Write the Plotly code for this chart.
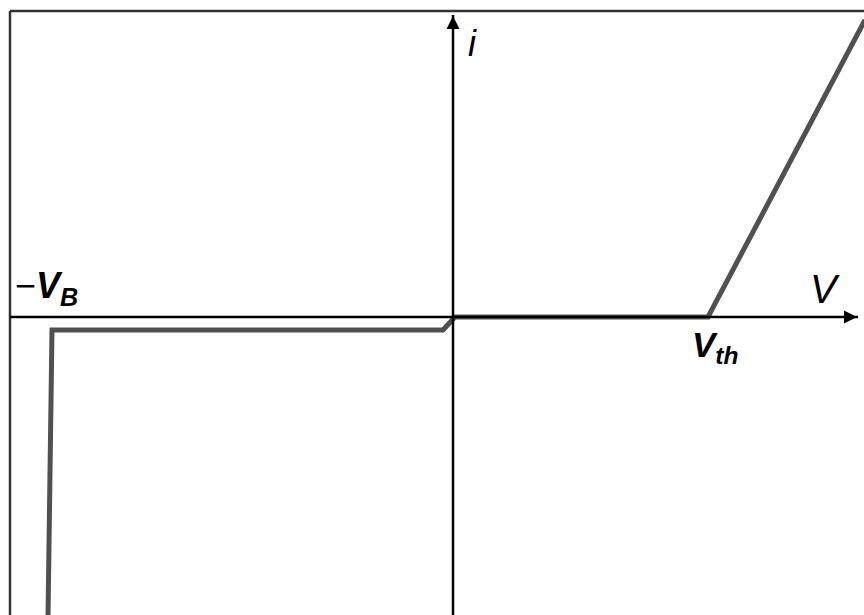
import plotly.graph_objects as go

# Curve (I-V characteristic), coordinates relative to origin (V right, i up)
curve_v = [-405, -401, -10, 2, 255, 412]
curve_i = [-300, -13, -13, 0, 0, 297]

# Axis extents
x_range = [-453, 411]
y_range = [-298, 317]

# Labels
lbl_vb = "−<b><i>V</i></b><sub><b><i>B</i></b></sub>"
lbl_i = "<i>i</i>"
lbl_v = "<i>V</i>"
lbl_vth = "<b><i>V</i></b><sub><b><i>th</i></b></sub>"

FONT = "Liberation Sans, Arial, sans-serif"

fig = go.Figure()
fig.add_trace(go.Scatter(x=curve_v, y=curve_i, mode="lines",
                         line=dict(color="#505050", width=5),
                         hoverinfo="skip", showlegend=False))

# axis arrowheads
fig.add_trace(go.Scatter(x=[404], y=[0], mode="markers",
                         marker=dict(symbol="arrow-right", size=13, color="black"),
                         hoverinfo="skip", showlegend=False))
fig.add_trace(go.Scatter(x=[0], y=[301], mode="markers",
                         marker=dict(symbol="arrow-up", size=13, color="black"),
                         hoverinfo="skip", showlegend=False))

annotations = [
    dict(x=-440, y=29, text=lbl_vb, showarrow=False, xanchor="left", yanchor="middle",
         font=dict(family=FONT, size=36, color="black")),
    dict(x=19, y=274, text=lbl_i, showarrow=False, xanchor="center", yanchor="middle",
         font=dict(family=FONT, size=36, color="black")),
    dict(x=372, y=28, text=lbl_v, showarrow=False, xanchor="center", yanchor="middle",
         font=dict(family=FONT, size=40, color="black")),
    dict(x=262, y=-30, text=lbl_vth, showarrow=False, xanchor="center", yanchor="middle",
         font=dict(family=FONT, size=35, color="black")),
]

shapes = [
    # frame top and left
    dict(type="line", xref="paper", yref="paper", x0=10/864, x1=1, y0=1-11/615, y1=1-11/615,
         line=dict(color="#333333", width=2.5)),
    dict(type="line", xref="paper", yref="paper", x0=10/864, x1=10/864, y0=0, y1=1-11/615,
         line=dict(color="#333333", width=2.5)),
    # axes
    dict(type="line", xref="x", yref="y", x0=-443, x1=405, y0=0, y1=0,
         line=dict(color="black", width=2.5), layer="above"),
    dict(type="line", xref="x", yref="y", x0=0, x1=0, y0=-300, y1=302,
         line=dict(color="black", width=2.5), layer="above"),
]

fig.update_layout(
    width=864, height=615,
    margin=dict(l=0, r=0, t=0, b=0),
    paper_bgcolor="white", plot_bgcolor="white",
    xaxis=dict(range=x_range, visible=False, fixedrange=True),
    yaxis=dict(range=y_range, visible=False, fixedrange=True),
    annotations=annotations, shapes=shapes,
    showlegend=False,
)

fig.write_html("out.html", post_script="document.body.style.margin='0';",
               config={"displayModeBar": False})
